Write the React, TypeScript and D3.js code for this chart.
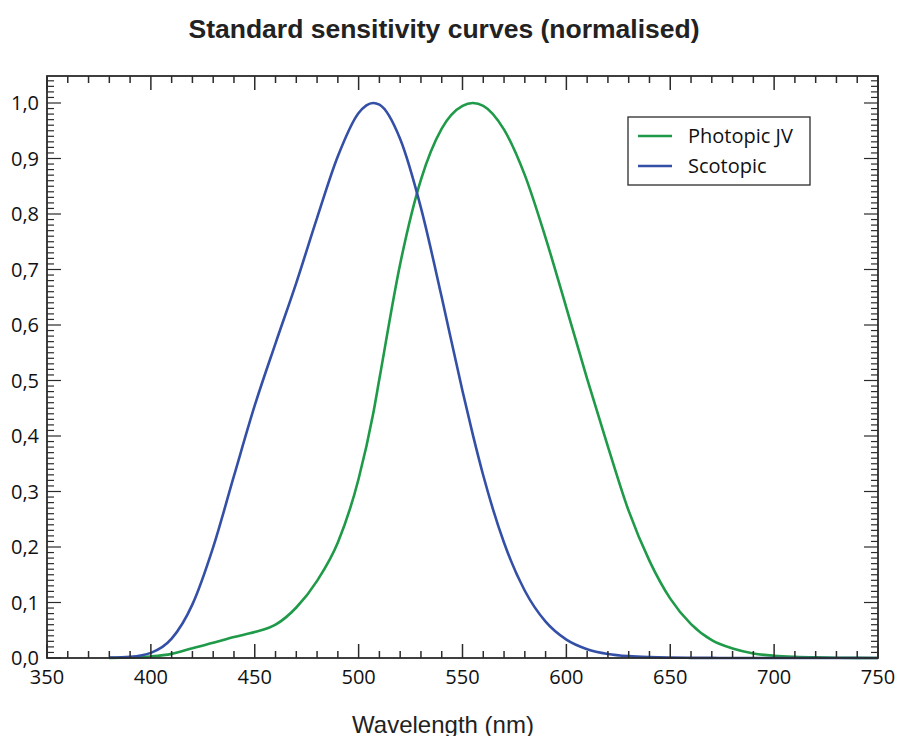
import React from "react";
import * as d3 from "d3";

const wavelengths = [380, 390, 400, 410, 420, 430, 440, 450, 460, 470, 480, 490, 500, 507, 510, 520, 530, 540, 550, 555, 560, 570, 580, 590, 600, 610, 620, 630, 640, 650, 660, 670, 680, 690, 700, 710, 720, 730, 740, 750];

const photopicJV = [0.0002, 0.0008, 0.0028, 0.0074, 0.0175, 0.0273, 0.0379, 0.0468, 0.06, 0.091, 0.139, 0.208, 0.323, 0.44, 0.503, 0.71, 0.862, 0.954, 0.995, 1.0, 0.995, 0.952, 0.87, 0.757, 0.631, 0.503, 0.381, 0.265, 0.175, 0.107, 0.061, 0.032, 0.017, 0.0082, 0.0041, 0.0021, 0.00105, 0.00052, 0.00025, 0.00012];

const scotopic = [0.000589, 0.002209, 0.00929, 0.03484, 0.0966, 0.1998, 0.3281, 0.455, 0.567, 0.676, 0.793, 0.904, 0.982, 1.0, 0.997, 0.935, 0.811, 0.65, 0.481, 0.402, 0.3288, 0.2076, 0.1212, 0.0655, 0.03315, 0.01593, 0.00737, 0.003335, 0.001497, 0.000677, 0.000313, 0.000148, 0.0000715, 0.0000353, 0.0000178, 0.0000091, 0.0000047, 0.0000025, 0.0000014, 0.0000008];

const seriesNames = ["Photopic JV", "Scotopic"];
const seriesColors = ["#1f9a48", "#3450a6"];
const xTicks = [350, 400, 450, 500, 550, 600, 650, 700, 750];
const yTicks = [0, 0.1, 0.2, 0.3, 0.4, 0.5, 0.6, 0.7, 0.8, 0.9, 1.0];
const title = "Standard sensitivity curves (normalised)";
const xLabel = "Wavelength (nm)";

export default function App() {
  const W = 898, H = 736;
  const left = 47, right = 878, top = 76, bottom = 658;
  const x = d3.scaleLinear().domain([350, 750]).range([left, right]);
  const y = d3.scaleLinear().domain([0, 1]).range([bottom, 103]);

  const line = d3
    .line<[number, number]>()
    .x((d) => x(d[0]))
    .y((d) => y(d[1]))
    .curve(d3.curveMonotoneX);

  const series = [photopicJV, scotopic];

  const xMinor = d3.range(350, 751, 10);
  const yMinor = d3.range(0, 1.046, 0.01);
  const fmt = (v: number) => d3.format(".1f")(v).replace(".", ",");
  const axisColor = "#2b2b2b";
  const labelFont = "'Open Sans', 'Noto Sans', sans-serif";
  const majorLen = 14, minorLen = 7;

  return (
    <svg width={W} height={H} style={{ position: "absolute", left: 0, top: 0, background: "#fff" }}>
      <text x={444} y={38} textAnchor="middle" fontFamily="'Liberation Sans', Arial, sans-serif" fontWeight="bold" fontSize={26.5} fill="#222">
        {title}
      </text>

      {series.map((vals, i) => (
        <path
          key={i}
          d={line(wavelengths.map((w, j) => [w, vals[j]] as [number, number])) || ""}
          fill="none"
          stroke={seriesColors[i]}
          strokeWidth={2.6}
        />
      ))}

      {xMinor.map((v) => {
        const isMajor = v % 50 === 0;
        const len = isMajor ? majorLen : minorLen;
        return (
          <g key={"xm" + v}>
            <line x1={x(v)} x2={x(v)} y1={bottom} y2={bottom - len} stroke={axisColor} strokeWidth={1.5} />
            <line x1={x(v)} x2={x(v)} y1={top} y2={top + len} stroke={axisColor} strokeWidth={1.5} />
          </g>
        );
      })}
      {yMinor.map((v, i) => {
        const isMajor = i % 10 === 0;
        const len = isMajor ? majorLen : minorLen;
        return (
          <g key={"ym" + i}>
            <line x1={left} x2={left + len} y1={y(v)} y2={y(v)} stroke={axisColor} strokeWidth={1.2} />
            <line x1={right} x2={right - len} y1={y(v)} y2={y(v)} stroke={axisColor} strokeWidth={1.2} />
          </g>
        );
      })}

      <rect x={left} y={top} width={right - left} height={bottom - top} fill="none" stroke={axisColor} strokeWidth={1.8} />

      {xTicks.map((v) => (
        <text key={"xt" + v} x={x(v)} y={684} textAnchor="middle" fontFamily={labelFont} fontSize={20} fill="#111">
          {v}
        </text>
      ))}
      {yTicks.map((v) => (
        <text key={"yt" + v} x={39} y={y(v)} dy="0.35em" textAnchor="end" fontFamily={labelFont} fontSize={20} fill="#111">
          {fmt(v)}
        </text>
      ))}

      <text x={443} y={733} textAnchor="middle" fontFamily="'Liberation Sans', Arial, sans-serif" fontSize={24} fill="#222">
        {xLabel}
      </text>

      <rect x={628} y={117} width={182} height={68} fill="#fff" stroke={axisColor} strokeWidth={1.3} />
      {seriesNames.map((n, i) => (
        <g key={n}>
          <line x1={638} x2={672} y1={136 + i * 30} y2={136 + i * 30} stroke={seriesColors[i]} strokeWidth={2.6} />
          <text x={688} y={136 + i * 30} dy="0.35em" fontFamily={labelFont} fontSize={20} fill="#111">
            {n}
          </text>
        </g>
      ))}
    </svg>
  );
}
